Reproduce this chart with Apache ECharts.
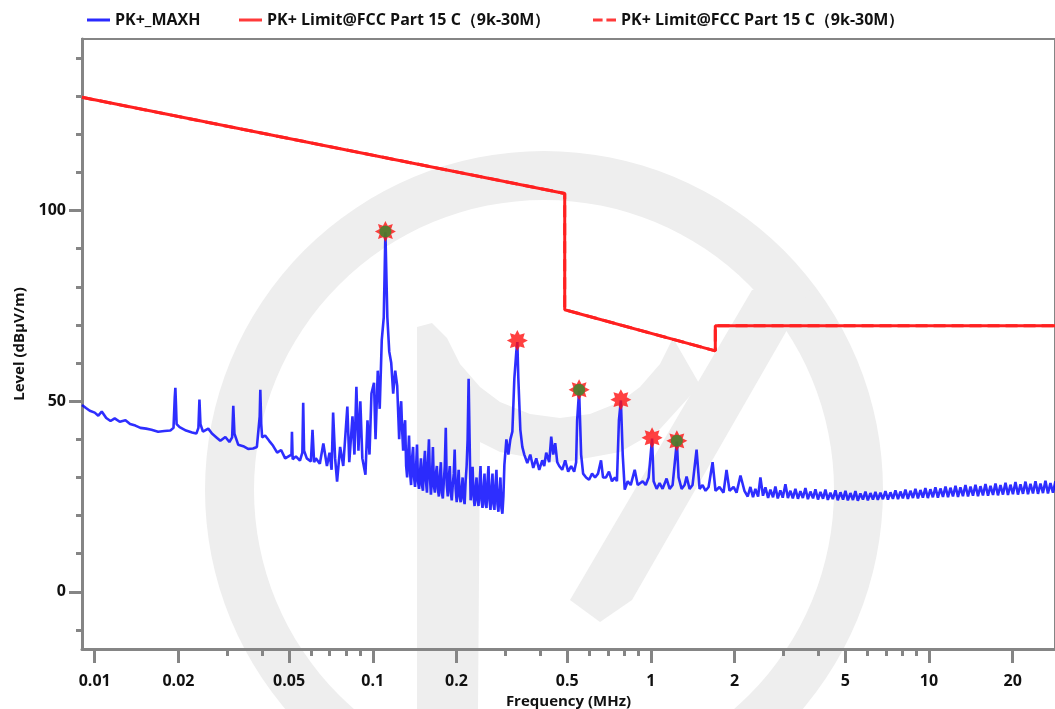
<!DOCTYPE html>
<html><head><meta charset="utf-8">
<script src="https://cdn.jsdelivr.net/npm/echarts@6/dist/echarts.min.js"></script>
<style>html,body{margin:0;padding:0;background:#fff}#c{width:1055px;height:709px}</style>
</head><body><div id="c"></div>
<script>
// ---- data: PK+_MAXH trace as [frequency MHz, level dBµV/m] ----
const traceLow = [[0.009,49.0],[0.0093,48.2],[0.0096,47.5],[0.0100,47.0],[0.0103,46.2],[0.0106,47.3],[0.0110,45.6],[0.0114,44.8],[0.0118,45.5],[0.0123,44.6],[0.0129,45.0],[0.0134,44.0],[0.0140,43.6],[0.0146,43.0],[0.0153,42.8],[0.0160,42.5],[0.0169,42.0],[0.0178,42.2],[0.0187,42.3],[0.0192,43.0],[0.0194,51.0],[0.0195,53.5],[0.0196,49.0],[0.0197,44.0],[0.0202,43.2],[0.0213,42.3],[0.0224,41.8],[0.0232,41.5],[0.0236,43.0],[0.0238,50.4],[0.0240,44.0],[0.0245,42.0],[0.0256,42.8],[0.0264,41.5],[0.0274,40.5],[0.0283,39.6],[0.0295,40.6],[0.0305,39.3],[0.0312,40.5],[0.0315,48.8],[0.0318,41.5],[0.0328,38.6],[0.0342,38.2],[0.0356,37.5],[0.0371,37.6],[0.0383,38.0],[0.0389,38.5],[0.0392,46.0],[0.0394,53.0],[0.0397,44.0],[0.0400,40.5],[0.0410,41.0],[0.0424,39.6],[0.0438,38.3],[0.0453,36.5],[0.0468,37.2],[0.0484,35.0],[0.0510,36.0],[0.0512,42.0],[0.0515,34.8],[0.0529,35.5],[0.0547,34.4],[0.0558,36.5],[0.0562,49.6],[0.0566,37.0],[0.0579,35.0],[0.0599,34.2],[0.0607,42.5],[0.0615,34.0],[0.0624,35.0],[0.0645,33.6],[0.0664,38.9],[0.0684,33.0],[0.0699,36.5],[0.0711,32.0],[0.0720,47.0],[0.0732,35.0],[0.0744,28.9],[0.0763,38.0],[0.0783,33.0],[0.0810,48.6],[0.0823,34.0],[0.0845,46.0],[0.0859,36.0],[0.0873,53.8],[0.0888,37.0],[0.0902,50.0],[0.0917,35.0],[0.0941,30.7],[0.0957,45.0],[0.0973,36.0],[0.0989,52.0]];
const tracePeak = [[0.1010,54.8],[0.1023,40.0],[0.1042,58.0],[0.1059,48.0],[0.1077,66.0],[0.1095,72.0],[0.1110,94.3],[0.1128,72.0],[0.1146,63.0],[0.1165,60.0],[0.1184,52.0],[0.1204,58.0],[0.1224,54.0],[0.1244,40],[0.1255,47],[0.1265,50],[0.1276,42],[0.1286,37],[0.1296,43],[0.1307,45],[0.1318,33],[0.1329,30],[0.1340,36],[0.1350,41],[0.1362,31],[0.1373,28],[0.1384,35],[0.1396,38],[0.1407,30],[0.1419,27.5],[0.1430,32],[0.1442,38.6],[0.1454,29],[0.1466,27],[0.1478,31],[0.1490,35],[0.1502,28],[0.1515,26.5],[0.1527,33],[0.1540,37],[0.1553,29],[0.1566,26],[0.1579,34],[0.1592,40],[0.1605,30],[0.1618,25.5],[0.1631,29],[0.1645,38],[0.1658,28],[0.1672,26],[0.1686,31],[0.1700,33],[0.1714,27],[0.1728,25],[0.1742,30],[0.1757,34],[0.1771,26],[0.1786,24.5],[0.1801,29],[0.1815,33],[0.1830,43],[0.1845,28],[0.1861,25],[0.1876,30],[0.1892,33],[0.1907,26],[0.1923,24],[0.1939,28],[0.1955,31],[0.1970,37.3],[0.1986,27],[0.2003,23.5],[0.2020,28],[0.2036,32],[0.2053,25],[0.2070,23.5],[0.2087,27],[0.2104,30],[0.2121,24.5],[0.2139,23],[0.2157,29],[0.2175,33],[0.2193,40],[0.2211,55.9],[0.2229,40],[0.2248,24],[0.2266,28],[0.2285,32.8],[0.2304,25],[0.2323,22.5],[0.2342,27],[0.2361,30],[0.2380,24],[0.2400,22.5],[0.2420,28],[0.2440,33],[0.2460,24],[0.2481,22],[0.2501,27],[0.2522,31],[0.2543,23],[0.2564,22],[0.2585,29],[0.2607,33],[0.2628,24],[0.2650,21.5],[0.2672,27],[0.2694,31],[0.2716,23],[0.2738,21.5],[0.2761,28],[0.2784,32],[0.2807,23],[0.2830,21],[0.2853,26],[0.2877,30],[0.2901,22],[0.2925,20.5],[0.2949,25]];
const traceMid = [[0.2973,33.3],[0.3023,40.0],[0.3073,36.0],[0.3124,40.0],[0.3176,42.0],[0.3229,56.0],[0.3282,63.0],[0.3310,65.5],[0.3337,56.0],[0.3393,42.5],[0.3449,38.0],[0.3506,36.0],[0.3594,33.8],[0.3684,36.0],[0.3776,32.5],[0.3871,35.0],[0.3968,32.0],[0.4068,34.5],[0.4135,33.0],[0.4204,36.5],[0.4310,34.0],[0.4382,40.7],[0.4455,36.0],[0.4529,39.0],[0.4605,34.0],[0.4682,33.0],[0.4799,32.0],[0.4919,34.5],[0.5042,31.5],[0.5169,33.0],[0.5298,31.5],[0.5386,34.0],[0.5431,45.0],[0.5520,52.8],[0.5613,36.0],[0.5706,31.0],[0.5849,30.0],[0.5995,29.4],[0.6145,31.0],[0.6299,30.0],[0.6456,31.0],[0.6618,34.5],[0.6728,30.0],[0.6896,30.0],[0.7069,31.5],[0.7246,29.0],[0.7427,30.0],[0.7550,29.0],[0.7676,45.0],[0.7800,50.2],[0.7920,36.0],[0.8054,26.8],[0.8255,29.0],[0.8462,28.0],[0.8748,32.0],[0.8967,28.0],[0.9116,27.8],[0.9345,29.0],[0.9580,28.0],[0.9820,30.0],[1.0100,40.2],[1.0230,29.0],[1.0490,27.0],[1.0750,28.5],[1.1020,27.0],[1.1390,29.7],[1.1680,27.0],[1.1970,28.0],[1.2400,39.4],[1.2580,30.0],[1.2900,27.0],[1.3220,28.0],[1.3440,30.2],[1.3780,27.0],[1.4120,28.0],[1.4600,37.3],[1.4970,27.0],[1.5340,28.0],[1.5730,26.5],[1.6130,27.5],[1.6670,34.0],[1.7080,26.5],[1.7650,27.5],[1.8250,26.0],[1.8710,32.0],[1.9180,26.5],[1.9830,27.5],[2.0330,26.0],[2.1000,30.5],[2.1700,26.5]];
const traceHigh = [[2.23,25.0],[2.28,27.5],[2.33,24.8],[2.376,27.0],[2.43,25.0],[2.477,30.0],[2.53,25.2],[2.582,27.4],[2.64,24.6],[2.691,26.8],[2.75,24.8],[2.804,27.6],[2.86,24.5],[2.923,26.6],[2.98,24.7],[3.047,28.2],[3.11,24.6],[3.176,26.5],[3.24,24.5],[3.31,27.0],[3.38,24.4],[3.45,26.4],[3.52,24.6],[3.596,27.2],[3.67,24.3],[3.748,26.3],[3.83,24.5],[3.906,26.9],[3.99,24.2],[4.071,26.2],[4.16,24.4],[4.243,26.8],[4.33,24.1],[4.422,26.0],[4.51,24.3],[4.61,26.6],[4.70,24.0],[4.805,26.1],[4.91,24.2],[5.008,26.5],[5.11,24.0],[5.219,25.9],[5.33,24.1],[5.44,26.4],[5.55,23.9],[5.67,25.8],[5.79,24.2],[5.91,26.3],[6.03,24.0],[6.16,25.9],[6.29,24.2],[6.42,26.2],[6.55,24.1],[6.69,26.0],[6.83,24.3],[6.975,26.4],[7.12,24.2],[7.27,26.1],[7.42,24.4],[7.577,26.6],[7.74,24.3],[7.897,26.3],[8.06,24.5],[8.23,26.8],[8.40,24.4],[8.58,26.5],[8.76,24.6],[8.94,27.0],[9.13,24.5],[9.32,26.7],[9.51,24.7],[9.71,27.2],[9.91,24.6],[10.12,26.9],[10.33,24.8],[10.55,27.4],[10.77,24.7],[11.0,27.1],[11.23,24.9],[11.47,27.6],[11.71,24.8],[11.95,27.3],[12.2,25.0],[12.46,27.8],[12.72,24.9],[12.98,27.4],[13.25,25.1],[13.53,28.0],[13.82,25.0],[14.11,27.6],[14.4,25.2],[14.7,28.1],[15.01,25.1],[15.32,27.7],[15.64,25.3],[15.97,28.3],[16.31,25.2],[16.65,27.8],[17.0,25.4],[17.35,28.4],[17.71,25.3],[18.08,28.0],[18.46,25.5],[18.85,28.6],[19.24,25.4],[19.64,28.1],[20.05,25.6],[20.47,28.8],[20.9,25.5],[21.34,28.2],[21.79,25.7],[22.24,28.9],[22.71,25.6],[23.18,28.3],[23.67,25.8],[24.16,29.0],[24.67,25.7],[25.18,28.4],[25.71,25.9],[26.24,29.1],[26.79,25.8],[27.35,28.5],[27.92,26.0],[28.5,29.0],[29.1,26.0],[30.0,28.0]];
const limitLine = [[0.009,129.7],[0.49,104.5],[0.49,74.0],[1.705,63.2],[1.705,69.8],[30,69.8]];
const peakPoints = [[0.111,94.5],[0.331,65.9],[0.552,53.0],[0.78,50.4],[1.01,40.4],[1.24,39.6]];
const peakPass = [true, false, true, false, false, true];
const xMajorTicks = [0.01, 0.02, 0.05, 0.1, 0.2, 0.5, 1, 2, 5, 10, 20];
const xMinorTicks = [0.03, 0.04, 0.06, 0.07, 0.08, 0.09, 0.3, 0.4, 0.6, 0.7, 0.8, 0.9, 3, 4, 6, 7, 8, 9];
const yMajorTicks = [0, 50, 100];
const yMinorTicks = [-10, 10, 20, 30, 40, 60, 70, 80, 90, 110, 120, 130, 140];
const seriesNames = ['PK+_MAXH', 'PK+ Limit@FCC Part 15 C（9k-30M）', 'PK+ Limit@FCC Part 15 C（9k-30M）\u200B'];

// ---- chart ----
const FONT = 'Open Sans';
const axisGray = '#858585';
const wm = '#eeeeee';
const txt = {color: '#111', fontWeight: 'bold', fontFamily: FONT};
const starPath = 'path://M20,10L15.54,12.3L17.07,17.07L12.3,15.54L10,20L7.7,15.54L2.93,17.07L4.46,12.3L0,10L4.46,7.7L2.93,2.93L7.7,4.46L10,0L12.3,4.46L17.07,2.93L15.54,7.7Z';
const chart = echarts.init(document.getElementById('c'), null, {renderer: 'canvas'});
const xBase = {type: 'log', logBase: 10, min: 0.009, max: 28.4, splitLine: {show: false}, position: 'bottom'};
const yBase = {type: 'value', min: -15, max: 145, splitLine: {show: false}, position: 'left'};
const legendCommon = {top: 7, itemWidth: 23, itemHeight: 3, selectedMode: false, textStyle: Object.assign({fontSize: 16}, txt)};
chart.setOption({
  animation: false,
  backgroundColor: '#fff',
  // faint background watermark logo (decoration, pixel space)
  graphic: [
    {type: 'ring', z: -10, silent: true, shape: {cx: 544, cy: 490, r: 339, r0: 290}, style: {fill: wm}},
    {type: 'polygon', z: -10, silent: true, shape: {points: [[417,709],[417,327],[432,323],[447,338],[460,364],[480,387],[500,402],[530,414],[560,418],[590,414],[620,402],[640,387],[660,364],[673,338],[700,385],[660,429],[620,452],[560,463],[500,452],[480,442],[478,709]]}, style: {fill: wm}},
    {type: 'polygon', z: -10, silent: true, shape: {points: [[752,290],[810,290],[632,600],[600,622],[570,600]]}, style: {fill: wm}}
  ],
  grid: {left: 82, right: 0, top: 39, bottom: 60, outerBoundsMode: 'none', containLabel: false,
         show: true, borderColor: axisGray, borderWidth: 2, backgroundColor: 'transparent'},
  legend: [
    Object.assign({left: 82, data: [{name: seriesNames[0], icon: 'rect'}]}, legendCommon),
    Object.assign({left: 234, data: [{name: seriesNames[1], icon: 'rect'}]}, legendCommon),
    Object.assign({left: 588, data: [{name: seriesNames[2], icon: 'path://M0,0H10V3H0Z M14,0H24V3H14Z'}]}, legendCommon)
  ],
  xAxis: [
    Object.assign({}, xBase, {
      axisLine: {show: true, onZero: false, lineStyle: {color: axisGray, width: 3}},
      axisTick: {show: true, customValues: xMajorTicks, length: 14, lineStyle: {color: axisGray, width: 3}},
      axisLabel: Object.assign({customValues: xMajorTicks, fontSize: 16, margin: 24, formatter: v => String(v)}, txt),
      name: 'Frequency (MHz)', nameLocation: 'middle', nameGap: 45,
      nameTextStyle: Object.assign({fontSize: 15}, txt)
    }),
    Object.assign({}, xBase, {
      axisLine: {show: false, onZero: false},
      axisTick: {show: true, customValues: xMinorTicks, length: 7, lineStyle: {color: axisGray, width: 3}},
      axisLabel: {show: false}
    })
  ],
  yAxis: [
    Object.assign({}, yBase, {
      axisLine: {show: true, onZero: false, lineStyle: {color: axisGray, width: 3}},
      axisTick: {show: true, customValues: yMajorTicks, length: 13, lineStyle: {color: axisGray, width: 3}},
      axisLabel: Object.assign({customValues: yMajorTicks, fontSize: 16, margin: 16}, txt),
      name: 'Level (dBµV/m)', nameLocation: 'middle', nameGap: 55,
      nameTextStyle: Object.assign({fontSize: 15}, txt)
    }),
    Object.assign({}, yBase, {
      axisLine: {show: false, onZero: false},
      axisTick: {show: true, customValues: yMinorTicks, length: 6, lineStyle: {color: axisGray, width: 3}},
      axisLabel: {show: false}
    })
  ],
  series: [
    {name: seriesNames[0], type: 'line', data: traceLow.concat(tracePeak, traceMid, traceHigh), showSymbol: false, symbol: 'none',
     lineStyle: {color: '#0000ff', width: 2.6, opacity: 0.82}, itemStyle: {color: '#2a2aff'}, z: 3},
    {name: seriesNames[2], type: 'line', data: limitLine, showSymbol: false, symbol: 'none',
     lineStyle: {color: '#ff2020', width: 3, type: 'dashed'}, itemStyle: {color: '#ff3a3a'}, z: 2},
    {name: seriesNames[1], type: 'line', data: limitLine, showSymbol: false, symbol: 'none',
     lineStyle: {color: '#ff2020', width: 3}, itemStyle: {color: '#ff3a3a'}, z: 2},
    {name: 'peaks', type: 'scatter', data: peakPoints, symbol: starPath, symbolSize: 21,
     itemStyle: {color: '#ff1010'}, z: 5},
    {name: 'pass', type: 'scatter', data: peakPoints.filter((d, i) => peakPass[i]), symbol: 'circle', symbolSize: 12,
     itemStyle: {color: '#2e8b2e'}, z: 6}
  ]
});
</script></body></html>
